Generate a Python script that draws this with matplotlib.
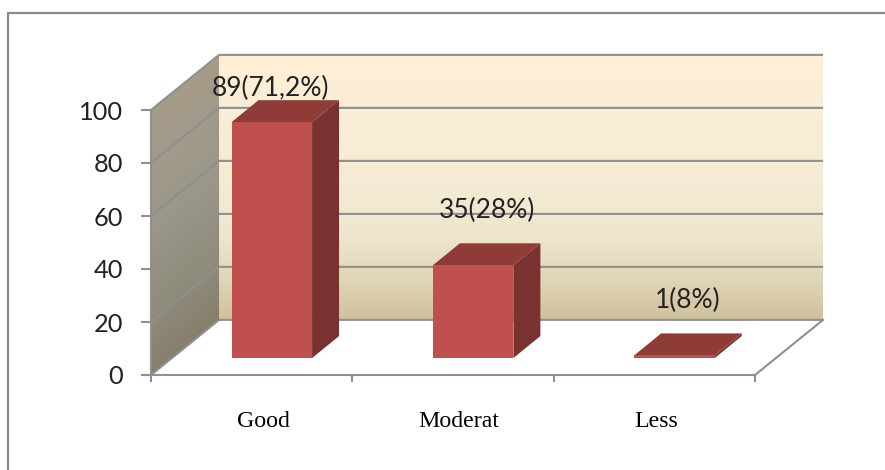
#!/usr/bin/python
import numpy as np
import matplotlib
matplotlib.use('Agg')
import matplotlib.pyplot as plt
from matplotlib.colors import LinearSegmentedColormap
from matplotlib.lines import Line2D
from matplotlib.patches import Polygon

# Data
categories = ['Good', 'Moderat', 'Less']
values = [89, 35, 1]
value_labels = ['89(71,2%)', '35(28%)', '1(8%)']
y_ticks = [0, 20, 40, 60, 80, 100]

# Parameters
W, H = 885, 470
GRID = '#8f8f8f'
FRONT = '#c0504d'
SIDE = '#7a3230'
TOP = '#8f3b38'
TICK_FONT = 'Lato'
CAT_FONT = 'Liberation Serif'

# Fake 3D depth, in axis units
XMAX = 3
YMAX = 100
DX = 0.338	# wall depth
DY = 20.8
BAR_LEFT = 0.40	# bar start inside its category
BAR_DY = 6.4	# bar floor height on the front plane
BAR_W = 0.40
BAR_DEPTH_X = 0.134
BAR_DEPTH_Y = 8.3

# Label placement
CAT_X = [0.556, 1.53, 2.51]
LABEL_X = [0.595, 1.67, 2.665]
LABEL_OFF = [24.5, 39.5, 39.5]

fig = plt.figure(figsize=(W/100.0, H/100.0), dpi=100)
ax = fig.add_axes([151.0/W, (H-375.0)/H, 604.0/W, 265.0/H])
ax.set_xlim(0, XMAX)
ax.set_ylim(0, YMAX)
ax.patch.set_visible(False)

# Back wall
wall_cm = LinearSegmentedColormap.from_list('wall', [
	(0.00, '#ffefd6'),
	(0.50, '#f4ebd4'),
	(0.70, '#ede5cc'),
	(0.85, '#dfd5b8'),
	(1.00, '#d0c19b'),
])
grad = np.linspace(0, 1, 256).reshape(-1, 1)
ax.imshow(grad, cmap=wall_cm, aspect='auto', extent=[DX, XMAX+DX, DY, YMAX+DY], origin='upper', zorder=1, clip_on=False)

# Left wall
side_cm = LinearSegmentedColormap.from_list('side', [
	(0.00, '#ab9f88'),
	(0.45, '#9b988a'),
	(0.70, '#8f8b7a'),
	(1.00, '#7c735c'),
])
gx, gy = np.meshgrid(np.linspace(0, 1, 64), np.linspace(0, 1, 256))
im = ax.imshow(0.85*gy + 0.15*gx, cmap=side_cm, aspect='auto', extent=[0, DX, 0, YMAX+DY], origin='upper', zorder=1, vmin=0, vmax=1)
wall = Polygon([(0, 0), (DX, DY), (DX, YMAX+DY), (0, YMAX)], closed=True, transform=ax.transData, fill=False, edgecolor='none', clip_on=False)
ax.add_patch(wall)
im.set_clip_box(fig.bbox)
im.set_clip_path(wall)

ax.set_xlim(0, XMAX)
ax.set_ylim(0, YMAX)

# Grid lines on both walls
for v in y_ticks:
	ax.plot([0, DX, XMAX+DX], [v, v+DY, v+DY], color=GRID, lw=1.5, zorder=2, clip_on=False, solid_capstyle='butt')
ax.plot([XMAX, XMAX+DX], [0, DY], color=GRID, lw=1.5, zorder=2, clip_on=False)

# Bars
for i, v in enumerate(values):
	x0 = i + BAR_LEFT
	x1 = x0 + BAR_W
	y0 = BAR_DY
	y1 = BAR_DY + v
	ax.add_patch(Polygon([(x1, y0), (x1+BAR_DEPTH_X, y0+BAR_DEPTH_Y), (x1+BAR_DEPTH_X, y1+BAR_DEPTH_Y), (x1, y1)],
		closed=True, facecolor=SIDE, edgecolor='none', zorder=3, clip_on=False))
	ax.add_patch(Polygon([(x0, y1), (x0+BAR_DEPTH_X, y1+BAR_DEPTH_Y), (x1+BAR_DEPTH_X, y1+BAR_DEPTH_Y), (x1, y1)],
		closed=True, facecolor=TOP, edgecolor='none', zorder=3, clip_on=False))
	ax.add_patch(Polygon([(x0, y0), (x1, y0), (x1, y1), (x0, y1)],
		closed=True, facecolor=FRONT, edgecolor='none', zorder=4, clip_on=False))
	ax.annotate(value_labels[i], xy=(LABEL_X[i], y1), xytext=(0, LABEL_OFF[i]), textcoords='offset points',
		ha='center', va='center', fontsize=19, family=TICK_FONT, color='#222222', zorder=6, annotation_clip=False)

# Axes
for s in ['top', 'right']:
	ax.spines[s].set_visible(False)
for s in ['left', 'bottom']:
	ax.spines[s].set_color(GRID)
	ax.spines[s].set_linewidth(1.5)
	ax.spines[s].set_zorder(5)
ax.set_xticks(range(XMAX+1))
ax.set_xticklabels([])
ax.set_yticks(y_ticks)
ax.tick_params(axis='y', length=7.2, width=1.5, color=GRID, pad=13, labelsize=18.3, labelcolor='#222222')
ax.tick_params(axis='x', length=5, width=1.5, color=GRID)
for t in ax.get_yticklabels():
	t.set_family(TICK_FONT)

for i, c in enumerate(categories):
	ax.annotate(c, xy=(CAT_X[i], 0), xytext=(0, -33.5), textcoords='offset points', ha='center', va='center',
		fontsize=17.2, family=CAT_FONT, color='black', annotation_clip=False)

# Outer frame, top and left only
fig.add_artist(Line2D([8.0/W, 8.0/W, 1], [0, (H-13.0)/H, (H-13.0)/H], color='#8a8a8a', lw=1.6, transform=fig.transFigure))

fig.savefig('out.png', dpi=100)
